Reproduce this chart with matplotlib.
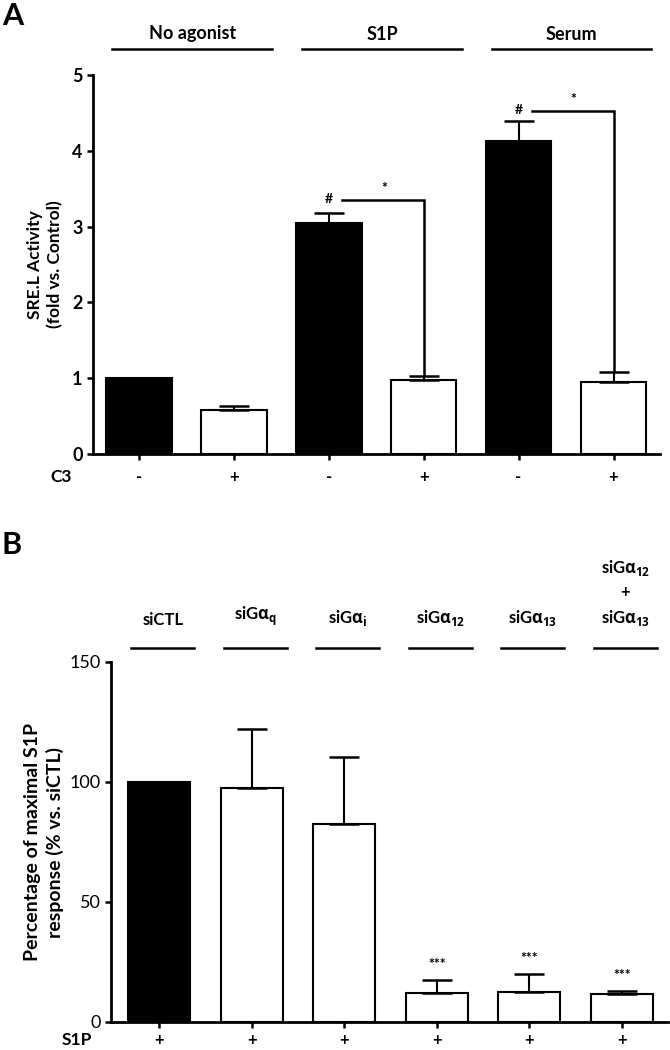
import matplotlib
matplotlib.use('Agg')
import matplotlib.pyplot as plt
import matplotlib.transforms as mtransforms
import numpy as np

plt.rcParams['font.family'] = ['Lato', 'DejaVu Sans']
plt.rcParams['mathtext.fontset'] = 'custom'
plt.rcParams['mathtext.rm'] = 'Open Sans:bold'
plt.rcParams['mathtext.it'] = 'Open Sans:bold'
plt.rcParams['mathtext.bf'] = 'Open Sans:bold'

# ---------------- data ----------------
a_groups = ['No agonist', 'S1P', 'Serum']
a_c3 = ['-', '+', '-', '+', '-', '+']
a_values = [1.0, 0.58, 3.05, 0.98, 4.13, 0.95]
a_errors = [0.0, 0.05, 0.13, 0.05, 0.26, 0.13]
a_colors = ['black', 'white', 'black', 'white', 'black', 'white']
a_yticks = [0, 1, 2, 3, 4, 5]

b_groups = ['siCTL', r'siG$\alpha_{q}$', r'siG$\alpha_{i}$', r'siG$\alpha_{12}$',
            r'siG$\alpha_{13}$', r'siG$\alpha_{12}$' + '\n+\n' + r'siG$\alpha_{13}$']
b_s1p = ['+', '+', '+', '+', '+', '+']
b_values = [100, 97.5, 82.5, 12, 12.5, 11.5]
b_errors = [0, 24.5, 28, 5.5, 7.5, 1.5]
b_colors = ['black', 'white', 'white', 'white', 'white', 'white']
b_sig = ['', '', '', '***', '***', '***']
b_yticks = [0, 50, 100, 150]

W, H = 670, 1050
fig = plt.figure(figsize=(W / 100, H / 100), dpi=100)


def fx(x):
    return x / W


def fy(y):
    return 1 - y / H


def style_axes(ax):
    for s in ['top', 'right']:
        ax.spines[s].set_visible(False)
    for s in ['left', 'bottom']:
        ax.spines[s].set_linewidth(2)
    ax.tick_params(axis='both', direction='out', length=4, width=1.8)


# ---------------- panel A ----------------
axA = fig.add_axes([fx(93), fy(454), fx(660) - fx(93), fy(75) - fy(454)])
xa = np.arange(len(a_values))
axA.bar(xa, a_values, width=0.69, color=a_colors, edgecolor='black', linewidth=1.5,
        yerr=[np.zeros(len(a_errors)), a_errors], capsize=11,
        error_kw=dict(elinewidth=1.5, capthick=1.8, ecolor='black'))
axA.set_xlim(-0.485, 5.49)
axA.set_ylim(0, 5)
axA.set_yticks(a_yticks)
axA.set_yticklabels([str(t) for t in a_yticks], fontsize=13, fontweight='bold')
axA.set_xticks(xa)
axA.set_xticklabels([])
style_axes(axA)
axA.set_ylabel('SRE.L Activity\n(fold vs. Control)', fontsize=12.5, fontweight='bold',
               labelpad=6, linespacing=1.3)

trA = mtransforms.blended_transform_factory(axA.transData, fig.transFigure)
for i, s in enumerate(a_c3):
    axA.text(xa[i], fy(477), s, transform=trA, ha='center', va='center',
             fontsize=12, fontweight='bold')
fig.text(fx(72), fy(477), 'C3', ha='right', va='center', fontsize=12.5, fontweight='bold')

for g, name in enumerate(a_groups):
    c = 2 * g + 0.5 + 0.06
    axA.plot([c - 0.84, c + 0.84], [fy(49), fy(49)], transform=trA, color='black',
             lw=1.8, clip_on=False)
    axA.text(c, fy(34), name, transform=trA, ha='center', va='center',
             fontsize=13, fontweight='bold')

# significance brackets
for (bx, tx, top_y, low) in [(2, 3, 3.35, a_values[3] + a_errors[3]),
                             (4, 5, 4.52, a_values[5] + a_errors[5])]:
    axA.plot([bx + 0.14, tx, tx], [top_y, top_y, low + 0.02], color='black', lw=1.8,
             clip_on=False, solid_joinstyle='miter')
    axA.text(bx, top_y + 0.02, '#', ha='center', va='center', fontsize=10, fontweight='bold')
    axA.text(bx + 0.58, top_y + 0.16, '*', ha='center', va='center', fontsize=10,
             fontweight='bold')

fig.text(fx(2), fy(16), 'A', ha='left', va='center', fontsize=22, fontweight='bold')

# ---------------- panel B ----------------
axB = fig.add_axes([fx(111), fy(1022), fx(668) - fx(111), fy(662) - fy(1022)])
xb = np.arange(len(b_values))
axB.bar(xb, b_values, width=0.67, color=b_colors, edgecolor='black', linewidth=1.5,
        yerr=[np.zeros(len(b_errors)), b_errors], capsize=11,
        error_kw=dict(elinewidth=1.5, capthick=1.8, ecolor='black'))
axB.set_xlim(-0.52, 5.5)
axB.set_ylim(0, 150)
axB.set_yticks(b_yticks)
axB.set_yticklabels([str(t) for t in b_yticks], fontsize=13)
axB.set_xticks(xb)
axB.set_xticklabels([])
style_axes(axB)
axB.set_ylabel('Percentage of maximal S1P\nresponse (% vs. siCTL)', fontsize=14,
               fontweight='bold', labelpad=4, linespacing=1.3)

for i, s in enumerate(b_sig):
    if s:
        axB.text(xb[i], b_values[i] + b_errors[i] + 4, s, ha='center', va='bottom',
                 fontsize=10, fontweight='bold')

trB = mtransforms.blended_transform_factory(axB.transData, fig.transFigure)
for i, s in enumerate(b_s1p):
    axB.text(xb[i], fy(1040), s, transform=trB, ha='center', va='center',
             fontsize=12, fontweight='bold')
fig.text(fx(92), fy(1040), 'S1P', ha='right', va='center', fontsize=12.5, fontweight='bold')

for i, name in enumerate(b_groups):
    c = xb[i] + 0.04
    axB.plot([c - 0.34, c + 0.34], [fy(648), fy(648)], transform=trB, color='black',
             lw=1.8, clip_on=False)
    axB.text(c, fy(628), name, transform=trB, ha='center', va='bottom',
             fontsize=12, fontweight='bold', linespacing=1.5)

fig.text(fx(2), fy(545), 'B', ha='left', va='center', fontsize=22, fontweight='bold')

fig.savefig('out.png', dpi=100)
